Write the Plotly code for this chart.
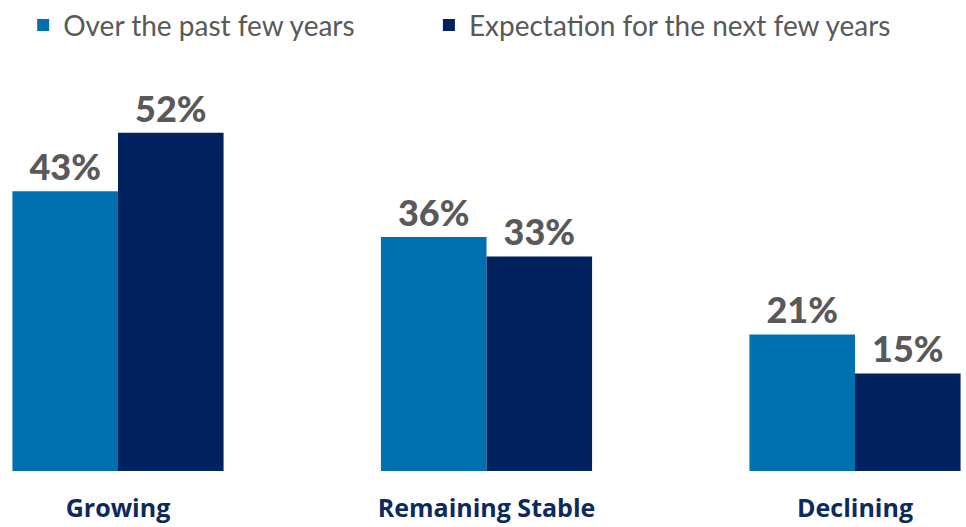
import plotly.graph_objects as go

categories = ["Growing", "Remaining Stable", "Declining"]
past_values = [43, 36, 21]
future_values = [52, 33, 15]
series_names = ["Over the past few years", "Expectation for the next few years"]
colors = ["#0071AE", "#01225E"]
legend_ids = ["legend", "legend2"]

fig = go.Figure()
for name, vals, col, lg in zip(series_names, [past_values, future_values], colors, legend_ids):
    fig.add_trace(go.Bar(
        x=categories, y=vals, name=name, legend=lg,
        marker=dict(color=col, line=dict(width=0)),
        text=[f"{v}%" for v in vals],
        textposition="outside",
        cliponaxis=False,
        textfont=dict(family="Lato", size=36, color="#595959", weight=900),
    ))

legend_common = dict(
    orientation="h", xanchor="left", yref="container", y=0.952, yanchor="middle",
    font=dict(family="Lato", size=28, color="#595959"),
    itemwidth=30, bgcolor="rgba(0,0,0,0)",
)

fig.update_layout(
    width=966, height=527,
    margin=dict(l=0, r=0, t=60, b=56, autoexpand=False),
    paper_bgcolor="white", plot_bgcolor="white",
    barmode="group", bargap=0.427, bargroupgap=0,
    showlegend=True,
    legend=dict(x=0.024, **legend_common),
    legend2=dict(x=0.444, **legend_common),
    xaxis=dict(
        range=[-0.3202, 2.3012], showgrid=False, zeroline=False, showline=False,
        automargin=False,
        ticks="outside", ticklen=15, tickcolor="rgba(0,0,0,0)",
        tickfont=dict(family="Open Sans", size=25, color="#0D2A5E", weight=700),
    ),
    yaxis=dict(range=[0, 63.2], visible=False, showgrid=False, zeroline=False, automargin=False),
)

fig.write_html("out.html", config={"displayModeBar": False},
               post_script="document.body.style.margin='0';")
